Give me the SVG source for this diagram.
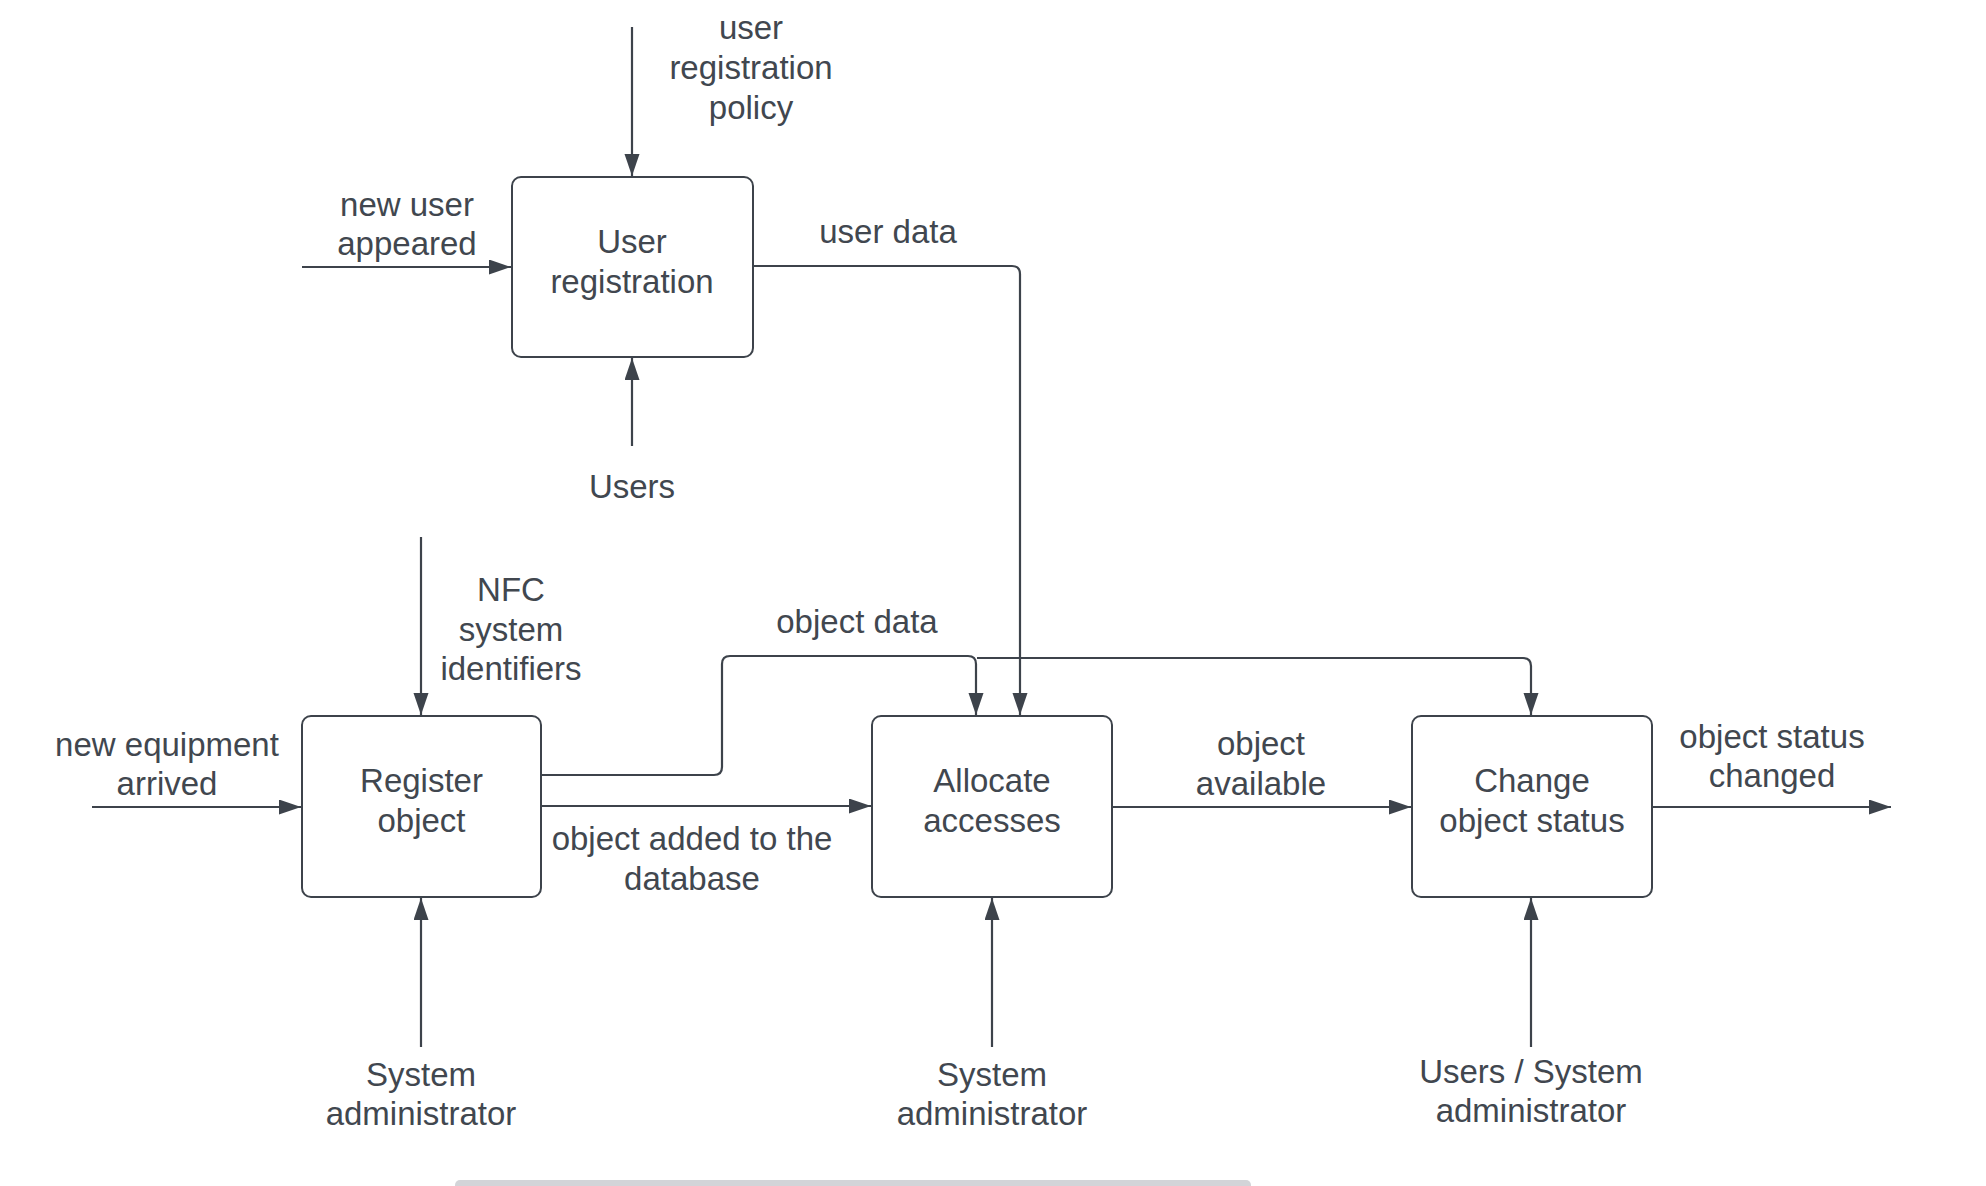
<svg xmlns="http://www.w3.org/2000/svg" width="1986" height="1186" viewBox="0 0 1986 1186">
<style>
.box{fill:#ffffff;stroke:#3d434b;stroke-width:2}
.ln{fill:none;stroke:#3d434b;stroke-width:2.2}
.ar{marker-end:url(#ah)}
text{font-family:"Liberation Sans",Arial,sans-serif;font-size:33px;fill:#41474f;text-anchor:middle}
</style>
<defs>
<marker id="ah" markerUnits="userSpaceOnUse" markerWidth="24" markerHeight="16" refX="22" refY="7.5" orient="auto">
<path d="M0,0 L22,7.5 L0,15 Z" fill="#3d434b"/>
</marker>
</defs>
<rect width="1986" height="1186" fill="#ffffff"/>
<g id="connectors">
<path class="ln ar" d="M632,27 V176"/>
<path class="ln ar" d="M302,267 H511"/>
<path class="ln ar" d="M632,446 V358"/>
<path class="ln ar" d="M753,266 H1012 Q1020,266 1020,274 V715"/>
<path class="ln ar" d="M421,537 V715"/>
<path class="ln ar" d="M92,807 H301"/>
<path class="ln ar" d="M541,775 H714 Q722,775 722,767 V664 Q722,656 730,656 H968 Q976,656 976,664 V715"/>
<path class="ln ar" d="M977,658 H1523 Q1531,658 1531,666 V715"/>
<path class="ln ar" d="M541,806 H871"/>
<path class="ln ar" d="M421,1047 V898"/>
<path class="ln ar" d="M1112,807 H1411"/>
<path class="ln ar" d="M992,1047 V898"/>
<path class="ln ar" d="M1531,1047 V898"/>
<path class="ln ar" d="M1652,807 H1891"/>
</g>
<g id="labels">
<text x="751" y="39">user</text>
<text x="751" y="79">registration</text>
<text x="751" y="119">policy</text>
<text x="407" y="216">new user</text>
<text x="407" y="255">appeared</text>
<text x="888" y="243">user data</text>
<text x="632" y="498">Users</text>
<text x="511" y="601">NFC</text>
<text x="511" y="641">system</text>
<text x="511" y="680">identifiers</text>
<text x="857" y="633">object data</text>
<text x="167" y="756">new equipment</text>
<text x="167" y="795">arrived</text>
<text x="692" y="850">object added to the</text>
<text x="692" y="890">database</text>
<text x="1261" y="755">object</text>
<text x="1261" y="795">available</text>
<text x="1772" y="748">object status</text>
<text x="1772" y="787">changed</text>
<text x="421" y="1086">System</text>
<text x="421" y="1125">administrator</text>
<text x="992" y="1086">System</text>
<text x="992" y="1125">administrator</text>
<text x="1531" y="1083">Users / System</text>
<text x="1531" y="1122">administrator</text>
</g>
<g id="node-user-registration">
<rect class="box" x="512" y="177" width="241" height="180" rx="9"/>
<text x="632" y="253">User</text>
<text x="632" y="293">registration</text>
</g>
<g id="node-register-object">
<rect class="box" x="302" y="716" width="239" height="181" rx="9"/>
<text x="421.5" y="792">Register</text>
<text x="421.5" y="832">object</text>
</g>
<g id="node-allocate-accesses">
<rect class="box" x="872" y="716" width="240" height="181" rx="9"/>
<text x="992" y="792">Allocate</text>
<text x="992" y="832">accesses</text>
</g>
<g id="node-change-object-status">
<rect class="box" x="1412" y="716" width="240" height="181" rx="9"/>
<text x="1532" y="792">Change</text>
<text x="1532" y="832">object status</text>
</g>
<rect x="455" y="1180" width="796" height="12" rx="5" fill="#d3d4d8"/>
</svg>
